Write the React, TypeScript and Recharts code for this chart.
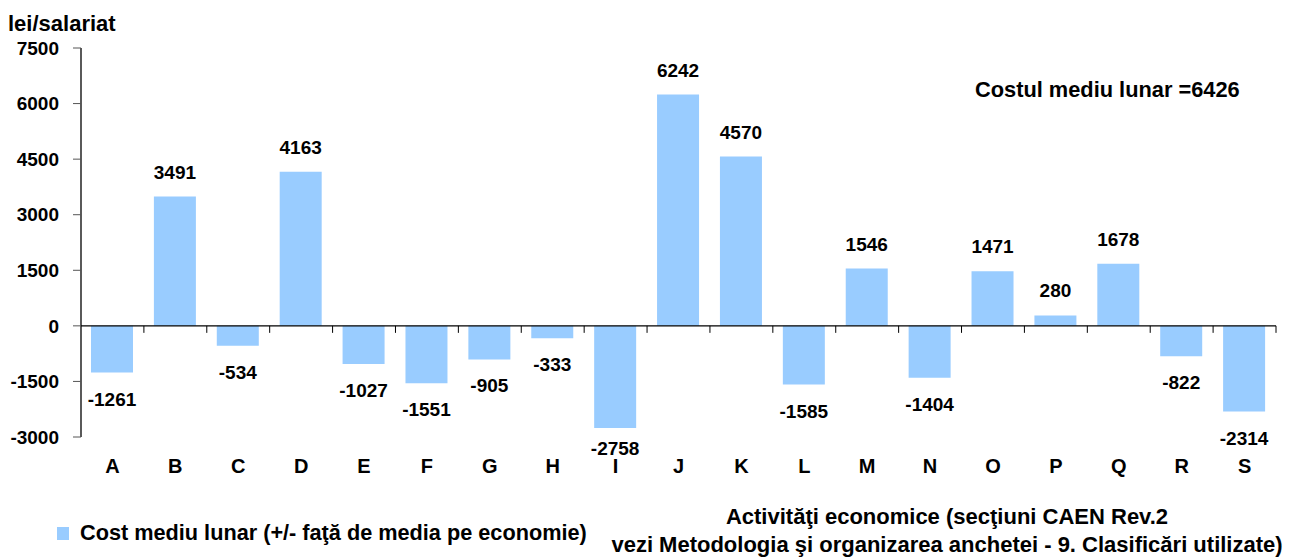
import { BarChart, Bar, XAxis, YAxis, ReferenceLine, LabelList } from 'recharts'

const sections = ['A', 'B', 'C', 'D', 'E', 'F', 'G', 'H', 'I', 'J', 'K', 'L', 'M', 'N', 'O', 'P', 'Q', 'R', 'S']
const deviations = [-1261, 3491, -534, 4163, -1027, -1551, -905, -333, -2758, 6242, 4570, -1585, 1546, -1404, 1471, 280, 1678, -822, -2314]
const yTicks = [-3000, -1500, 0, 1500, 3000, 4500, 6000, 7500]

const data = sections.map((s, i) => ({ section: s, value: deviations[i] }))

const W = 1292
const H = 557
const xAxisH = 30
const margin = { top: 48, right: 16, left: 0, bottom: 120 - xAxisH }
const yMin = -3000
const yMax = 7500
const plotH = H - margin.top - margin.bottom - xAxisH
const plotBottom = margin.top + plotH
const zeroY = margin.top + (plotH * yMax) / (yMax - yMin)

const font = '"Liberation Sans", Arial, sans-serif'
const barColor = '#99ccff'

const SectionTick = (props: any) => {
    const { x, payload } = props
    const band = (W - 81 - margin.right) / sections.length
    return (
        <g>
            <line x1={x + band / 2} x2={x + band / 2} y1={zeroY} y2={zeroY + 7} stroke="#000" strokeWidth={1} />
            <text x={x} y={473} textAnchor="middle" fontFamily={font} fontWeight="bold" fontSize={20} fill="#000">
                {payload.value}
            </text>
        </g>
    )
}

const ValueLabel = (props: any) => {
    const { x, y, width, height, value } = props
    const top = Math.min(y, y + height)
    const bottom = Math.max(y, y + height)
    const cx = x + width / 2
    // labels that would fall past the plot's bottom get pulled back up, like the original
    const ly = value >= 0 ? top - 18 : Math.min(bottom + 33, plotBottom + 18)
    return (
        <text x={cx} y={ly} textAnchor="middle" fontFamily={font} fontWeight="bold" fontSize={19} fill="#000">
            {value}
        </text>
    )
}

export default function App() {
    return (
        <div style={{ position: 'absolute', left: 0, top: 0, width: W, height: H, background: '#fff', fontFamily: font }}>
            <div style={{ position: 'absolute', left: 8, top: 11, fontSize: 22, fontWeight: 'bold', color: '#000' }}>lei/salariat</div>
            <div style={{ position: 'absolute', left: 975, top: 77, fontSize: 21.8, fontWeight: 'bold', color: '#000', whiteSpace: 'nowrap' }}>
                Costul mediu lunar =6426
            </div>
            <div
                style={{
                    position: 'absolute',
                    left: 600,
                    width: 694,
                    top: 503,
                    textAlign: 'center',
                    fontSize: 22,
                    lineHeight: '28px',
                    fontWeight: 'bold',
                    color: '#000',
                    whiteSpace: 'nowrap',
                }}
            >
                Activităţi economice (secţiuni CAEN Rev.2
                <br />
                vezi Metodologia şi organizarea anchetei - 9. Clasificări utilizate)
            </div>
            <div style={{ position: 'absolute', left: 57, top: 520, display: 'flex', alignItems: 'center', whiteSpace: 'nowrap' }}>
                <span style={{ width: 12, height: 13, background: barColor, display: 'inline-block', marginRight: 11 }} />
                <span style={{ fontWeight: 'bold', fontSize: 21.7, color: '#000' }}>
                    Cost mediu lunar (+/- faţă de media pe economie)
                </span>
            </div>
            <BarChart width={W} height={H} data={data} margin={margin}>
                <XAxis
                    dataKey="section"
                    height={xAxisH}
                    axisLine={false}
                    tickLine={false}
                    interval={0}
                    tick={<SectionTick />}
                />
                <YAxis
                    width={81}
                    domain={[yMin, yMax]}
                    ticks={yTicks}
                    interval={0}
                    axisLine={{ stroke: '#000', strokeWidth: 1.3 }}
                    tickLine={{ stroke: '#555' }}
                    tickSize={8}
                    tickMargin={14}
                    tick={{ fontFamily: font, fontWeight: 'bold', fontSize: 19, fill: '#000' }}
                />
                <ReferenceLine y={0} stroke="#000" strokeWidth={1.3} />
                <Bar dataKey="value" fill={barColor} barSize={42} isAnimationActive={false}>
                    <LabelList dataKey="value" content={<ValueLabel />} />
                </Bar>
            </BarChart>
        </div>
    )
}
